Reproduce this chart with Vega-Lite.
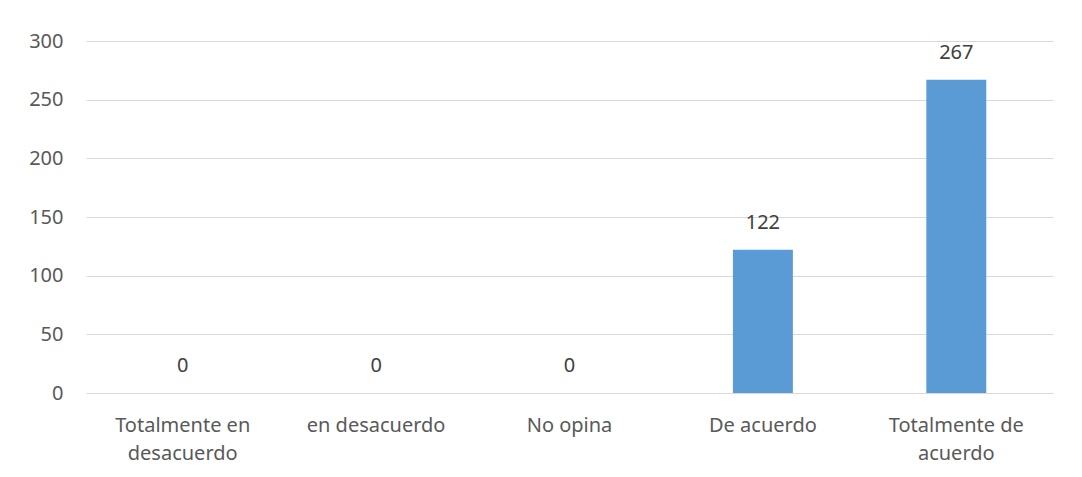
{
  "$schema": "https://vega.github.io/schema/vega-lite/v6.json",
  "autosize": "none",
  "padding": {"left": 86, "top": 41, "right": 29, "bottom": 84},
  "width": 967,
  "height": 352,
  "background": "white",
  "data": {"values": [
    {"cat": "Totalmente en|desacuerdo", "n": 0},
    {"cat": "en desacuerdo", "n": 0},
    {"cat": "No opina", "n": 0},
    {"cat": "De acuerdo", "n": 122},
    {"cat": "Totalmente de|acuerdo", "n": 267}
  ]},
  "config": {
    "view": {"stroke": null},
    "font": "Noto Sans"
  },
  "encoding": {
    "x": {"field": "cat", "type": "nominal", "sort": null,
      "scale": {"paddingInner": 0.69, "paddingOuter": 0.345},
      "axis": {"title": null, "labelAngle": 0, "ticks": false, "domain": true, "domainColor": "#d9d9d9", "domainWidth": 1,
        "labelExpr": "split(datum.label, '|')", "labelFont": "Noto Sans", "labelFontSize": 20, "labelColor": "#595959",
        "labelLineHeight": 28, "labelBaseline": "middle", "labelPadding": 32}},
    "y": {"field": "n", "type": "quantitative",
      "scale": {"domain": [0, 300], "nice": false},
      "axis": {"title": null, "values": [0, 50, 100, 150, 200, 250, 300], "ticks": false, "domain": false,
        "gridColor": "#d9d9d9", "gridWidth": 1, "labelFont": "Noto Sans", "labelFontSize": 20, "labelColor": "#595959", "labelPadding": 23}}
  },
  "layer": [
    {"mark": {"type": "bar", "color": "#5b9bd5"}},
    {"mark": {"type": "text", "dy": -27, "baseline": "middle", "fontSize": 20, "color": "#404040"},
     "encoding": {"text": {"field": "n", "type": "quantitative"}}}
  ]
}
